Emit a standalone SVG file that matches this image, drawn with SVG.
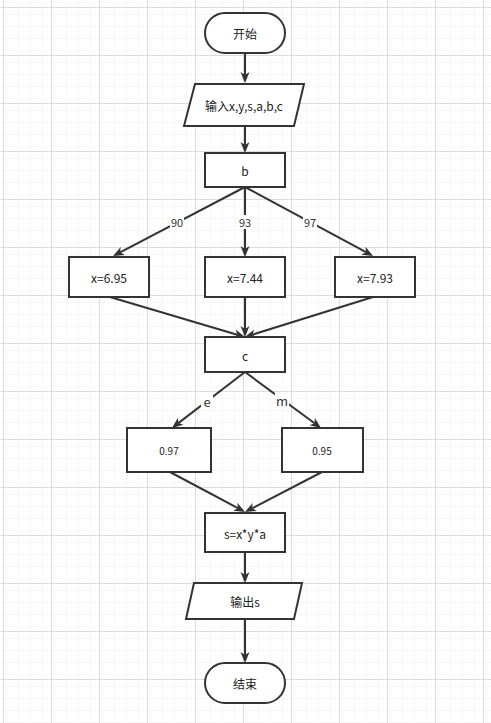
<svg xmlns="http://www.w3.org/2000/svg" width="491" height="723" viewBox="0 0 491 723">
<defs>
<pattern id="minor" x="3" y="7" width="12" height="12" patternUnits="userSpaceOnUse">
<path d="M0,0 H12 M0,0 V12" fill="none" stroke="#efefef" stroke-width="1"/>
</pattern>
<pattern id="major" x="3" y="7" width="48" height="48" patternUnits="userSpaceOnUse">
<rect width="48" height="48" fill="url(#minor)"/>
<path d="M0,0.5 H48 M0.5,0 V48" fill="none" stroke="#dcdcdc" stroke-width="1"/>
</pattern>
<marker id="arr" viewBox="0 0 12 10" refX="4" refY="5" markerWidth="12" markerHeight="10" markerUnits="userSpaceOnUse" orient="auto">
<path d="M1,0.5 L12,5 L1,9.5 L4,5 Z" fill="#333"/>
</marker>
<style>
.n{fill:#fff;stroke:#333;stroke-width:2}
.t{font-family:"Noto Sans CJK SC","Noto Sans",sans-serif;font-size:12px;fill:#222;text-anchor:middle;dominant-baseline:central}
.s{font-size:10px}
.e{fill:none;stroke:#333;stroke-width:2;marker-end:url(#arr)}
.lb{fill:#fff}
.l{font-family:"Noto Sans CJK SC","Noto Sans",sans-serif;font-size:11px;fill:#333;text-anchor:middle;dominant-baseline:central}
.lg{font-size:13px}
</style>
</defs>
<rect width="491" height="723" fill="#fff"/>
<rect width="491" height="723" fill="url(#major)"/>
<g id="connectors">
<line class="e" x1="245" y1="53" x2="245" y2="75"/>
<line class="e" x1="245" y1="126" x2="245" y2="145"/>
<line class="e" x1="245" y1="187" x2="120.1" y2="252.3"/>
<line class="e" x1="245" y1="187" x2="245" y2="249"/>
<line class="e" x1="245" y1="187" x2="366" y2="252.2"/>
<line class="e" x1="110" y1="297" x2="237.3" y2="334.7"/>
<line class="e" x1="245" y1="297" x2="245" y2="329"/>
<line class="e" x1="373" y1="297" x2="252.6" y2="334.6"/>
<line class="e" x1="245" y1="372" x2="178.3" y2="423.1"/>
<line class="e" x1="245" y1="372" x2="314.6" y2="423.3"/>
<line class="e" x1="170" y1="472" x2="237.9" y2="508.2"/>
<line class="e" x1="322" y1="472" x2="252.1" y2="508.3"/>
<line class="e" x1="245" y1="552" x2="245" y2="575"/>
<line class="e" x1="245" y1="619" x2="245" y2="655"/>
<rect class="lb" x="170" y="215" width="14" height="14"/>
<text class="l" x="177" y="222">90</text>
<rect class="lb" x="238" y="215" width="14" height="14"/>
<text class="l" x="245" y="222">93</text>
<rect class="lb" x="303" y="215" width="14" height="14"/>
<text class="l" x="310" y="222">97</text>
<rect class="lb" x="201" y="393" width="12" height="16"/>
<text class="l lg" x="207" y="401">e</text>
<rect class="lb" x="275" y="392" width="14" height="16"/>
<text class="l lg" x="282" y="400">m</text>
</g>
<g id="start"><rect class="n" x="205" y="13" width="80" height="40" rx="20"/><text class="t" x="245" y="33">开始</text></g>
<g id="input"><polygon class="n" points="195,84 304,84 294,126 184,126"/><text class="t" x="244" y="105">输入x,y,s,a,b,c</text></g>
<g id="b"><rect class="n" x="205" y="153" width="80" height="34"/><text class="t" x="245" y="170">b</text></g>
<g id="x695"><rect class="n" x="69" y="257" width="80" height="40"/><text class="t" x="109" y="277">x=6.95</text></g>
<g id="x744"><rect class="n" x="205" y="257" width="80" height="40"/><text class="t" x="245" y="277">x=7.44</text></g>
<g id="x793"><rect class="n" x="335" y="257" width="80" height="40"/><text class="t" x="375" y="277">x=7.93</text></g>
<g id="c"><rect class="n" x="205" y="337" width="80" height="35"/><text class="t" x="245" y="355">c</text></g>
<g id="a097"><rect class="n" x="127" y="428" width="84" height="44"/><text class="t s" x="169" y="450">0.97</text></g>
<g id="a095"><rect class="n" x="282" y="428" width="81" height="44"/><text class="t s" x="322" y="450">0.95</text></g>
<g id="calc"><rect class="n" x="205" y="513" width="80" height="39"/><text class="t" x="245" y="533">s=x*y*a</text></g>
<g id="output"><polygon class="n" points="194,583 302,583 294,619 186,619"/><text class="t" x="245" y="601">输出s</text></g>
<g id="end"><rect class="n" x="205" y="663" width="80" height="40" rx="20"/><text class="t" x="245" y="683">结束</text></g>
</svg>
